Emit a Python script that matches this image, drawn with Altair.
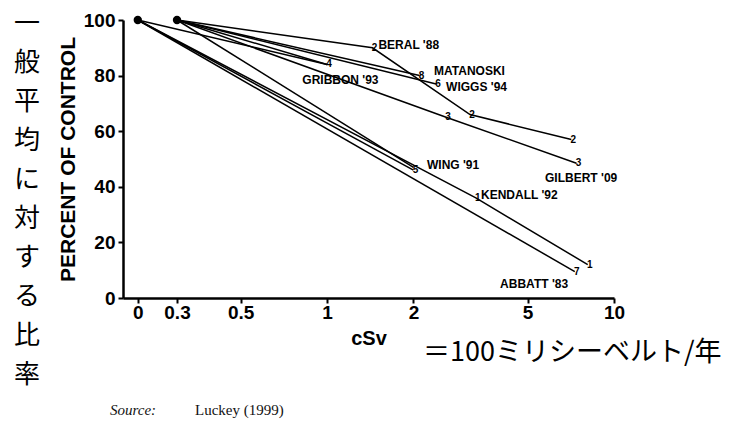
import altair as alt
import pandas as pd

# ---------------- data ----------------
ZERO_AT = 0.219      # where the "0" dose is drawn on the broken log axis
X_LEFT = 0.1945      # left end of the x axis
X_TICKS = [0, 0.3, 0.5, 1, 2, 5, 10]
Y_TICKS = [0, 20, 40, 60, 80, 100]

# line paths: study id, dose (cSv), percent of control
line_study = ["ABBATT", "ABBATT",
              "KENDALL", "KENDALL", "KENDALL",
              "WING_A", "WING_A",
              "GRIBBON_A", "GRIBBON_A",
              "WING_B", "WING_B",
              "GRIBBON_B", "GRIBBON_B",
              "BERAL", "BERAL", "BERAL", "BERAL",
              "GILBERT", "GILBERT", "GILBERT",
              "MATANOSKI", "MATANOSKI",
              "WIGGS", "WIGGS"]
line_dose = [0, 7.3,
             0, 3.3, 8.1,
             0, 2.0,
             0, 1.0,
             0.3, 2.0,
             0.3, 1.0,
             0.3, 1.44, 3.15, 7.1,
             0.3, 2.6, 7.4,
             0.3, 2.1,
             0.3, 2.4]
line_pct = [100, 9.5,
            100, 36, 12,
            100, 46,
            100, 84,
            100, 47,
            100, 84,
            100, 90, 66, 57,
            100, 65, 48.5,
            100, 80,
            100, 77]

# control points (filled dots)
dot_dose = [0, 0.3]
dot_pct = [100, 100]

# small point markers (digits)
marker_dose = [7.3, 3.3, 8.1, 2.0, 1.0, 1.44, 3.15, 7.1, 2.6, 7.4, 2.1, 2.4]
marker_pct = [9.5, 36, 12, 46, 84, 90, 66, 57, 65, 48.5, 80, 77]
marker_text = ["7", "1", "1", "5", "4", "2", "2", "2", "3", "3", "8", "6"]

# study name labels
label_text = ["BERAL '88", "MATANOSKI", "WIGGS '94", "GRIBBON '93",
              "WING '91", "KENDALL '92", "GILBERT '09", "ABBATT '83"]
label_dose = [1.51, 2.36, 2.6, 0.82, 2.23, 3.44, 5.75, 4.01]
label_pct = [91, 81.5, 75.9, 78.4, 47.8, 37, 43.2, 5.0]

JP_VERTICAL = "一般平均に対する比率"
JP_UNIT = "＝100ミリシーベルト/年"
SOURCE_LABEL = "Source:"
SOURCE_TEXT = "Luckey (1999)"

# ---------------- tables ----------------
order = []
seen = {}
for s in line_study:
    seen[s] = seen.get(s, -1) + 1
    order.append(seen[s])
lines_df = pd.DataFrame({"study": line_study, "dose": line_dose,
                         "pct": line_pct, "ord": order})
dots_df = pd.DataFrame({"dose": dot_dose, "pct": dot_pct})
markers_df = pd.DataFrame({"dose": marker_dose, "pct": marker_pct, "t": marker_text})
labels_df = pd.DataFrame({"dose": label_dose, "pct": label_pct, "t": label_text})

XPOS = f"datum.dose == 0 ? {ZERO_AT} : datum.dose"
tick_positions = [ZERO_AT if v == 0 else v for v in X_TICKS]

x_enc = alt.X("xpos:Q",
              scale=alt.Scale(type="log", domain=[X_LEFT, 10], nice=False),
              axis=alt.Axis(values=tick_positions,
                            labelExpr=f"datum.value < {ZERO_AT + 0.01} ? '0' : '' + datum.value",
                            title="cSv", grid=False, labelFlush=False))
y_enc = alt.Y("pct:Q", scale=alt.Scale(domain=[0, 100], nice=False),
              axis=alt.Axis(values=Y_TICKS, title="PERCENT OF CONTROL", grid=False,
                            labelFlush=False))

lines = alt.Chart(lines_df).transform_calculate(xpos=XPOS).mark_line(
    color="black", strokeWidth=1.5
).encode(x=x_enc, y=y_enc, detail="study:N", order="ord:Q")

dots = alt.Chart(dots_df).transform_calculate(xpos=XPOS).mark_circle(
    color="black", opacity=1, size=70
).encode(x=x_enc, y=y_enc)

markers = alt.Chart(markers_df).transform_calculate(xpos=XPOS).mark_text(
    font="Liberation Sans", fontWeight="bold", fontSize=10, color="black",
    align="center", baseline="middle", dx=2
).encode(x=x_enc, y=y_enc, text="t:N")

labels = alt.Chart(labels_df).transform_calculate(xpos=XPOS).mark_text(
    font="Liberation Sans", fontWeight="bold", fontSize=12, color="black",
    align="left", baseline="middle"
).encode(x=x_enc, y=y_enc, text="t:N")

jp_vert = alt.Chart(pd.DataFrame({"t": ["\n".join(JP_VERTICAL)]})).mark_text(
    font="Noto Sans CJK JP", fontSize=26, lineHeight=39, lineBreak="\n",
    align="center", baseline="middle", color="black"
).encode(x=alt.value(-96), y=alt.value(4), text="t:N")

jp_unit = alt.Chart(pd.DataFrame({"t": [JP_UNIT]})).mark_text(
    font="Noto Sans CJK JP", fontSize=27, align="left", baseline="middle", color="black"
).encode(x=alt.value(300), y=alt.value(333), text="t:N")

src1 = alt.Chart(pd.DataFrame({"t": [SOURCE_LABEL]})).mark_text(
    font="Liberation Serif", fontStyle="italic", fontSize=15, align="left",
    baseline="middle", color="#111111"
).encode(x=alt.value(-13), y=alt.value(390), text="t:N")

src2 = alt.Chart(pd.DataFrame({"t": [SOURCE_TEXT]})).mark_text(
    font="Liberation Serif", fontSize=15, align="left",
    baseline="middle", color="#111111"
).encode(x=alt.value(72), y=alt.value(390), text="t:N")

chart = alt.layer(lines, dots, markers, labels, jp_vert, jp_unit, src1, src2).properties(
    width=491, height=278,
    autosize=alt.AutoSizeParams(type="none"),
    padding={"left": 115, "top": 12, "right": 112, "bottom": 125},
).configure_view(stroke=None).configure_axis(
    domainColor="black", domainWidth=2.5, tickColor="black", tickWidth=2,
    tickSize=5, labelColor="black", labelFont="Liberation Sans",
    labelFontWeight="bold", labelFontSize=19, titleColor="black",
    titleFont="Liberation Sans", titleFontWeight="bold",
).configure_axisY(
    labelPadding=3, titleFontSize=21, titlePadding=5
).configure_axisX(
    labelPadding=0, titleFontSize=20, titlePadding=6
)

chart.save("out.html", embed_options={"renderer": "svg", "actions": False})
